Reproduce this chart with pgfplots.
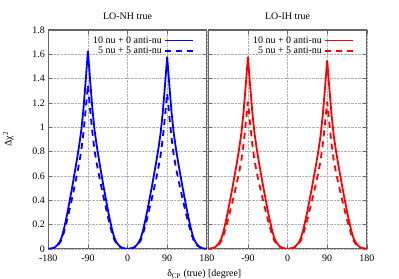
\documentclass[border=0pt]{standalone}
\usepackage{fontspec}
\setmainfont{Liberation Serif}
\usepackage{pgfplots}
\usepackage{pgfplotstable}
\pgfplotsset{compat=1.18}

\pgfplotstableread{
x s d
-180 0 0
-175 0.002 0.001
-170 0.005 0.004
-165 0.013 0.011
-160 0.029 0.024
-155 0.052 0.043
-150 0.090 0.074
-145 0.155 0.128
-140 0.236 0.196
-135 0.326 0.270
-130 0.424 0.351
-125 0.522 0.432
-120 0.628 0.520
-115 0.734 0.608
-110 0.848 0.702
-105 0.978 0.810
-100 1.157 0.959
-95 1.386 1.148
-90 1.630 1.350
-85 1.386 1.148
-80 1.157 0.959
-75 0.978 0.810
-70 0.848 0.702
-65 0.734 0.608
-60 0.628 0.520
-55 0.522 0.432
-50 0.424 0.351
-45 0.326 0.270
-40 0.236 0.196
-35 0.155 0.128
-30 0.090 0.074
-25 0.052 0.043
-20 0.029 0.024
-15 0.013 0.011
-10 0.005 0.004
-5 0.002 0.001
0 0 0
5 0.002 0.001
10 0.005 0.004
15 0.013 0.010
20 0.028 0.023
25 0.051 0.041
30 0.087 0.070
35 0.150 0.122
40 0.229 0.186
45 0.316 0.256
50 0.411 0.333
55 0.506 0.410
60 0.608 0.493
65 0.711 0.576
70 0.822 0.666
75 0.948 0.768
80 1.122 0.909
85 1.343 1.088
90 1.580 1.280
95 1.343 1.088
100 1.122 0.909
105 0.948 0.768
110 0.822 0.666
115 0.711 0.576
120 0.608 0.493
125 0.506 0.410
130 0.411 0.333
135 0.316 0.256
140 0.229 0.186
145 0.150 0.122
150 0.087 0.070
155 0.051 0.041
160 0.028 0.023
165 0.013 0.010
170 0.005 0.004
175 0.002 0.001
180 0 0
}\nhtable

\pgfplotstableread{
x s d
-180 0 0
-175 0.002 0.001
-170 0.005 0.004
-165 0.013 0.010
-160 0.028 0.022
-155 0.051 0.039
-150 0.087 0.067
-145 0.150 0.115
-140 0.229 0.175
-135 0.316 0.242
-130 0.411 0.315
-125 0.506 0.387
-120 0.608 0.466
-115 0.711 0.545
-110 0.822 0.629
-105 0.948 0.726
-100 1.122 0.859
-95 1.343 1.029
-90 1.580 1.210
-85 1.343 1.029
-80 1.122 0.859
-75 0.948 0.726
-70 0.822 0.629
-65 0.711 0.545
-60 0.608 0.466
-55 0.506 0.387
-50 0.411 0.315
-45 0.316 0.242
-40 0.229 0.175
-35 0.150 0.115
-30 0.087 0.067
-25 0.051 0.039
-20 0.028 0.022
-15 0.013 0.010
-10 0.005 0.004
-5 0.002 0.001
0 0 0
5 0.002 0.001
10 0.005 0.004
15 0.012 0.010
20 0.028 0.022
25 0.050 0.039
30 0.085 0.067
35 0.147 0.115
40 0.225 0.175
45 0.310 0.242
50 0.403 0.315
55 0.496 0.387
60 0.597 0.466
65 0.698 0.545
70 0.806 0.629
75 0.930 0.726
80 1.101 0.859
85 1.318 1.029
90 1.550 1.210
95 1.318 1.029
100 1.101 0.859
105 0.930 0.726
110 0.806 0.629
115 0.698 0.545
120 0.597 0.466
125 0.496 0.387
130 0.403 0.315
135 0.310 0.242
140 0.225 0.175
145 0.147 0.115
150 0.085 0.067
155 0.050 0.039
160 0.028 0.022
165 0.012 0.010
170 0.005 0.004
175 0.002 0.001
180 0 0
}\ihtable

\pgfplotsset{
  panel/.style={
    scale only axis,
    width=158.5bp, height=218.8bp,
    xmin=-180, xmax=180, ymin=0, ymax=1.8,
    xtick={-180,-90,0,90,180},
    ytick={0,0.2,0.4,0.6,0.8,1,1.2,1.4,1.6,1.8},
    tick align=inside,
    major tick length=4bp,
    tick style={black!60, line width=0.6bp},
    axis line style={black!60, line width=1.1bp},
    grid=major,
    grid style={densely dotted, black!30, line width=0.5bp},
    font=\fontsize{10}{12}\selectfont,
    title style={font=\fontsize{10}{12}\selectfont, yshift=1bp},
    xticklabel style={yshift=-3bp},
    legend style={draw=none, fill=none, at={(0.925,0.985)}, anchor=north east,
      legend cell align=right, font=\fontsize{10}{10}\selectfont,
      row sep=-1.5bp, inner sep=1bp,
      /tikz/every even column/.append style={column sep=3bp}},
    legend plot pos=right,
    legend image code/.code={\draw[#1] (0bp,0bp) -- (28bp,0bp);},
  }
}

\begin{document}
\begin{tikzpicture}
\useasboundingbox (-48.3bp,-30.2bp) rectangle (350.7bp,248.8bp);
\begin{axis}[panel,
  title={LO-NH true},
  xticklabels={-180,-90,0,90,180},
  yticklabels={0,0.2,0.4,0.6,0.8,1,1.2,1.4,1.6,1.8},
  ylabel={Δχ\textsuperscript{2}},
  ylabel style={at={(axis description cs:-0.252,0.5)}, anchor=center},
]
\addplot[blue, line width=1.8bp] table[x=x, y=s] {\nhtable};
\addlegendentry{10 nu + 0 anti-nu}
\addplot[blue, line width=1.8bp, dash pattern=on 6bp off 5bp] table[x=x, y=d] {\nhtable};
\addlegendentry{5 nu + 5 anti-nu}
\end{axis}
\begin{axis}[panel, xshift=160bp,
  title={LO-IH true},
  xticklabels={,-90,0,90,180},
  yticklabels={},
]
\addplot[red, line width=1.8bp] table[x=x, y=s] {\ihtable};
\addlegendentry{10 nu + 0 anti-nu}
\addplot[red, line width=1.8bp, dash pattern=on 6bp off 5bp] table[x=x, y=d] {\ihtable};
\addlegendentry{5 nu + 5 anti-nu}
\end{axis}
\node at (156bp,-25.5bp) {\fontsize{10}{12}\selectfont δ\textsubscript{CP} (true) [degree]};
\end{tikzpicture}
\end{document}
